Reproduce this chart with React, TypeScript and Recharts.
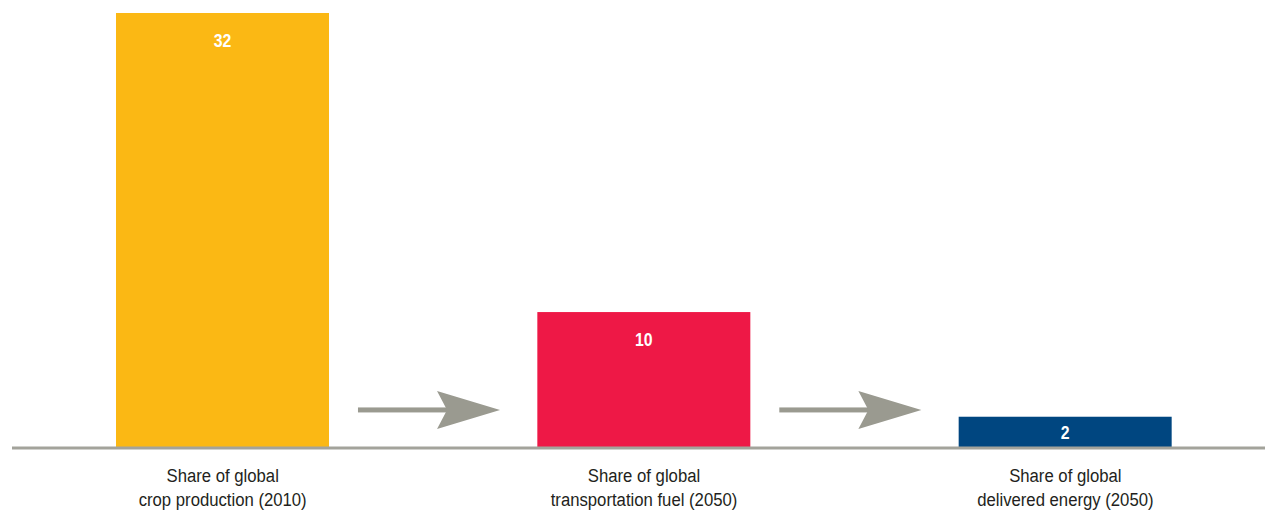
import React from "react";
import { BarChart, Bar, XAxis, YAxis, Cell, LabelList } from "recharts";

// bar categories (two-line tick labels)
const categories = [
  ["Share of global", "crop production (2010)"],
  ["Share of global", "transportation fuel (2050)"],
  ["Share of global", "delivered energy (2050)"],
];
// drawn bar heights, and the numbers printed on them
const values = [32, 10, 2.3];
const valueLabels = ["32", "10", "2"];
const colors = ["#FBB814", "#EE1846", "#004680"];
// arrow drawn after each bar (value level it sits at), null = none
const arrowLevels = [2.8, 2.8, null];

const FONT = "'Liberation Sans', Arial, sans-serif";

const data = categories.map((c, i) => ({
  name: c.join(" "),
  value: values[i],
  label: valueLabels[i],
}));

const CategoryTick = ({ x, y, index }: any) => {
  const lines = categories[index] || [];
  return (
    <g transform={`translate(${x},${y}) scale(0.88,1)`}>
      {lines.map((l, i) => (
        <text
          key={i}
          x={0}
          y={26 + i * 24}
          textAnchor="middle"
          fill="#231f20"
          style={{ fontFamily: FONT, fontSize: 19 }}
        >
          {l}
        </text>
      ))}
    </g>
  );
};

const BarValue = ({ x, y, width, height, index }: any) => {
  const cy = Math.min(y + 27, y + height / 2);
  return (
    <g transform={`translate(${x + width / 2},${cy + 6.5}) scale(0.88,1)`}>
      <text
        x={0}
        y={0}
        textAnchor="middle"
        fill="#ffffff"
        style={{ fontFamily: FONT, fontSize: 18, fontWeight: 700 }}
      >
        {valueLabels[index]}
      </text>
    </g>
  );
};

// bar rectangle plus the grey arrow pointing at the next bar
const BarWithArrow = (props: any) => {
  const { x, y, width, height, fill, index, value } = props;
  const level = arrowLevels[index];
  let arrow = null;
  if (level != null) {
    const v = Array.isArray(value) ? value[1] : value;
    const base = y + height;
    const ay = base - (height / v) * level;
    const x1 = x + width + width * 0.136;
    const x2 = x1 + width * 0.667;
    const head = 63;
    arrow = (
      <g fill="#9a9a90" stroke="none">
        <rect x={x1} y={ay - 2.5} width={x2 - head + 12 - x1} height={5} />
        <path
          d={`M${x2},${ay} L${x2 - head},${ay - 19} L${x2 - head + 10},${ay} L${x2 - head},${ay + 19} Z`}
        />
      </g>
    );
  }
  return (
    <g>
      <rect x={x} y={y} width={width} height={height} fill={fill} />
      {arrow}
    </g>
  );
};

export default function App() {
  return (
    <div style={{ marginLeft: -8, marginTop: -8, background: "#fff" }}>
      <BarChart
        width={1273}
        height={510}
        data={data}
        margin={{ top: 13, right: -3, bottom: 0, left: 12 }}
        barSize={213}
      >
        <XAxis
          dataKey="name"
          tick={<CategoryTick />}
          tickLine={false}
          axisLine={{ stroke: "#a3a39b", strokeWidth: 3 }}
          height={62}
          interval={0}
        />
        <YAxis hide domain={[0, 32]} />
        <Bar dataKey="value" isAnimationActive={false} shape={<BarWithArrow />}>
          {data.map((d, i) => (
            <Cell key={d.name} fill={colors[i]} />
          ))}
          <LabelList dataKey="label" content={<BarValue />} />
        </Bar>
      </BarChart>
    </div>
  );
}
